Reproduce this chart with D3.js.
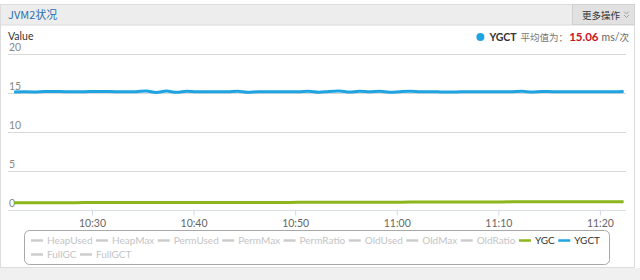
<!DOCTYPE html>
<html>
<head>
<meta charset="utf-8">
<script src="https://cdn.jsdelivr.net/npm/d3@7"></script>
<style>
  html, body { margin: 0; padding: 0; background: #fff; }
  svg { display: block; }
</style>
</head>
<body>
<div id="chart"></div>
<script>
// minute samples, 10:22 -> 11:22
const startTime = "2015-01-01T10:22:20";
const ygct = [15.08, 15.09, 15.08, 15.13, 15.14, 15.10, 15.09, 15.11, 15.14, 15.13,
              15.10, 15.10, 15.11, 15.20, 15.00, 15.18, 15.02, 15.16, 15.09, 15.10,
              15.09, 15.10, 15.15, 15.02, 15.10, 15.10, 15.10, 15.10, 15.11, 15.16,
              15.03, 15.14, 15.19, 15.05, 15.15, 15.10, 15.16, 15.04, 15.11, 15.15,
              15.10, 15.09, 15.08, 15.05, 15.10, 15.10, 15.10, 15.10, 15.10, 15.11,
              15.15, 15.05, 15.13, 15.11, 15.10, 15.10, 15.09, 15.10, 15.10, 15.09, 15.14];
const ygc = [0.88, 0.88, 0.88, 0.88, 0.88, 0.88, 0.88, 0.89, 0.89, 0.89,
             0.89, 0.89, 0.89, 0.89, 0.89, 0.90, 0.90, 0.90, 0.90, 0.90,
             0.90, 0.90, 0.90, 0.91, 0.91, 0.91, 0.91, 0.91, 0.92, 0.92,
             0.92, 0.92, 0.93, 0.93, 0.93, 0.93, 0.94, 0.94, 0.94, 0.95,
             0.95, 0.95, 0.96, 0.96, 0.96, 0.97, 0.97, 0.97, 0.97, 0.98,
             0.98, 0.98, 0.98, 0.99, 0.99, 0.99, 0.99, 1.00, 1.00, 1.00, 1.00];
const yTicks = [0, 5, 10, 15, 20];
const xTickTimes = ["10:30", "10:40", "10:50", "11:00", "11:10", "11:20"];
const legendRows = [
  ["HeapUsed", "HeapMax", "PermUsed", "PermMax", "PermRatio",
   "OldUsed", "OldMax", "OldRatio", "YGC", "YGCT"],
  ["FullGC", "FullGCT"]
];
const activeSeries = {YGC: "#8db51c", YGCT: "#1ea3e3"};
const avgLabel = {name: "YGCT", text: "平均值为：", value: "15.06", unit: "ms/", unitCjk: "次"};
const title = "JVM2状况";
const menuLabel = "更多操作";

const width = 640, height = 280;
const font = "Lato, 'Liberation Sans', sans-serif";
const cjk = "'Noto Sans CJK SC', sans-serif";
const margin = {top: 53.5, left: 8, right: 626, bottom: 209.5};

const parse = d3.timeParse("%Y-%m-%dT%H:%M:%S");
const t0 = parse(startTime);
const times = ygct.map((_, i) => d3.timeMinute.offset(t0, i));

const x = d3.scaleTime()
  .domain([parse("2015-01-01T10:21:44"), parse("2015-01-01T11:22:34")])
  .range([margin.left, margin.right]);
const y = d3.scaleLinear().domain([0, 20]).range([margin.bottom, margin.top]);

const svg = d3.select("#chart").append("svg")
  .attr("width", width)
  .attr("height", height)
  .attr("viewBox", [0, 0, width, height])
  .attr("font-family", font);

// panel background
svg.append("rect").attr("x", 0).attr("y", 268).attr("width", width).attr("height", 12).attr("fill", "#f0f0f0");
svg.append("rect").attr("x", 0.5).attr("y", 4.5).attr("width", 634).attr("height", 263)
  .attr("fill", "#fff").attr("stroke", "#dcdcdc");
svg.append("rect").attr("x", 0.5).attr("y", 4.5).attr("width", 634).attr("height", 20.5)
  .attr("fill", "#ededed").attr("stroke", "#dcdcdc");
svg.append("text").attr("x", 8).attr("y", 19)
  .attr("font-family", cjk).attr("font-size", 11)
  .attr("fill", "#2f6db0").text(title);

// menu button
svg.append("rect").attr("x", 572.5).attr("y", 4.5).attr("width", 62).attr("height", 20)
  .attr("fill", "#e1e1e1").attr("stroke", "#d0d0d0");
svg.append("text").attr("x", 582).attr("y", 18.5)
  .attr("font-family", cjk).attr("font-size", 9.5)
  .attr("fill", "#333").text(menuLabel);
svg.append("path")
  .attr("d", "M624,11.5l2.5,2.5l2.5,-2.5M624,15l2.5,2.5l2.5,-2.5")
  .attr("fill", "none").attr("stroke", "#999").attr("stroke-width", 0.9);

svg.append("text").attr("x", 8).attr("y", 40).attr("font-size", 10.5)
  .attr("fill", "#333").text("Value");

// grid
svg.append("g")
  .selectAll("line")
  .data(yTicks.filter(d => d > 0))
  .join("line")
    .attr("x1", margin.left).attr("x2", margin.right)
    .attr("y1", d => Math.round(y(d)) + 0.5).attr("y2", d => Math.round(y(d)) + 0.5)
    .attr("stroke", "#d8d8d8");

svg.append("g")
  .attr("font-size", 10.5)
  .attr("fill", "#888")
  .selectAll("text")
  .data(yTicks)
  .join("text")
    .attr("x", 9)
    .attr("y", d => y(d) - 2.5)
    .text(d => d);

// x axis
const xAxis = d3.axisBottom(x)
  .tickValues(xTickTimes.map(s => parse("2015-01-01T" + s + ":00")))
  .tickFormat(d3.timeFormat("%H:%M"))
  .tickSize(5)
  .tickPadding(4);
const gx = svg.append("g")
  .attr("transform", `translate(0,${Math.round(margin.bottom) + 0.5})`)
  .call(xAxis);
gx.select(".domain").attr("stroke", "#d8dde6").attr("d", `M${margin.left},0H${margin.right}`);
gx.selectAll(".tick line").attr("stroke", "#d0d8e4");
gx.selectAll(".tick text").attr("fill", "#666").attr("font-size", 10.5).attr("font-family", font);

// series
const line = d3.line()
  .x((d, i) => x(times[i]))
  .y(d => y(d))
  .curve(d3.curveMonotoneX);

svg.append("path").datum(ygc)
  .attr("fill", "none").attr("stroke", activeSeries.YGC).attr("stroke-width", 3)
  .attr("stroke-linejoin", "round").attr("d", line);
svg.append("path").datum(ygct)
  .attr("fill", "none").attr("stroke", activeSeries.YGCT).attr("stroke-width", 3)
  .attr("stroke-linejoin", "round").attr("d", line);

// average label top right, laid out left to right then right-aligned at 629
const avg = svg.append("g").attr("font-size", 10.5);
avg.append("circle").attr("cx", 0).attr("cy", -4).attr("r", 4).attr("fill", activeSeries.YGCT);
const parts = [
  {t: avgLabel.name, gap: 9, attrs: {"font-weight": "bold", fill: "#333"}},
  {t: avgLabel.text, gap: 4, attrs: {fill: "#777", "font-family": cjk, "font-size": 9.5}},
  {t: avgLabel.value, gap: 1, attrs: {"font-weight": "bold", fill: "#c8141e", "font-size": 11.5}},
  {t: avgLabel.unit, gap: 3, attrs: {fill: "#666"}},
  {t: avgLabel.unitCjk, gap: 0, attrs: {fill: "#666", "font-family": cjk, "font-size": 9.5}}
];
let ax = 0;
parts.forEach(p => {
  ax += p.gap;
  const el = avg.append("text").attr("x", ax).attr("y", 0).text(p.t);
  Object.entries(p.attrs).forEach(([k, v]) => el.attr(k, v));
  ax += el.node().getComputedTextLength();
});
avg.attr("transform", `translate(${629 - ax},41)`);

// legend
svg.append("rect").attr("x", 24.5).attr("y", 230.5).attr("width", 585).attr("height", 34)
  .attr("rx", 5).attr("fill", "#fff").attr("stroke", "#a8a8a8");

const legend = svg.append("g").attr("font-size", 10);
const symW = 12, symGap = 4, startX = 31, endX = 600;
legendRows.forEach((row, r) => {
  const items = row.map(name => {
    const g = legend.append("g");
    const txt = g.append("text").attr("x", symW + symGap)
      .attr("fill", activeSeries[name] ? "#333" : "#c4c4c4").text(name);
    g.append("line").attr("x1", 0).attr("x2", symW).attr("y1", -3.5).attr("y2", -3.5)
      .attr("stroke", activeSeries[name] || "#cccccc").attr("stroke-width", 2.5);
    return {g, w: symW + symGap + txt.node().getComputedTextLength()};
  });
  // first row is spread to the box width, the second uses the same gap
  if (r === 0) legend.gap = (endX - startX - d3.sum(items, d => d.w)) / (items.length - 1);
  let px = startX;
  items.forEach(it => {
    it.g.attr("transform", `translate(${px},${244 + r * 14})`);
    px += it.w + legend.gap;
  });
});
</script>
</body>
</html>
